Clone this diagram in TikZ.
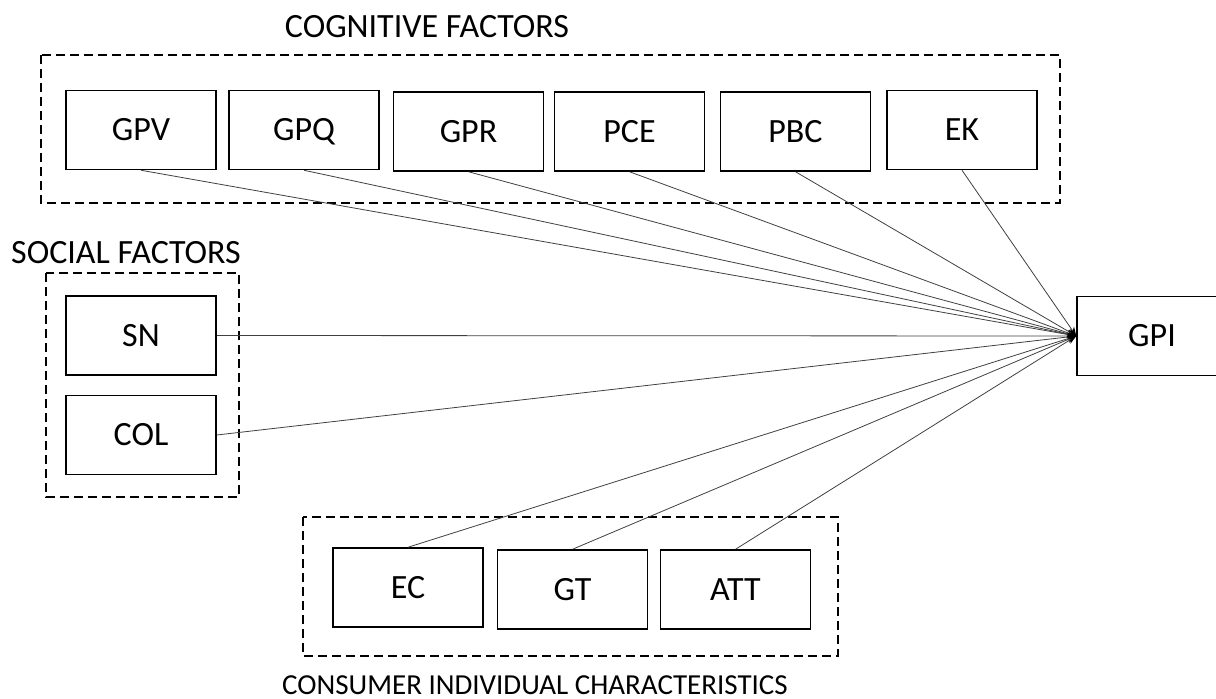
\documentclass[tikz,border=0pt]{standalone}
\usepackage{fontspec}
\setmainfont{Carlito}
\usetikzlibrary{arrows.meta}
\begin{document}
\begin{tikzpicture}[x=1pt,y=-1pt,
  fbox/.style={draw=black,line width=1.5pt,minimum width=150pt,minimum height=79pt,inner sep=0pt,
    font=\fontsize{34}{38}\selectfont,text height=21pt,text depth=0pt},
  group/.style={draw=black,line width=1.4pt,dash pattern=on 9pt off 5pt},
  title/.style={font=\fontsize{34}{38}\selectfont,inner sep=0pt,text height=21pt,text depth=0pt},
  smalltitle/.style={font=\fontsize{29}{33}\selectfont,inner sep=0pt,text height=18pt,text depth=0pt},
  conn/.style={draw=black!75,line width=0.8pt,-{Stealth[length=9pt,width=7pt,color=black]}}]
\useasboundingbox (0,0) rectangle (1216,699);
% groups
\draw[group] (41,55) rectangle (1060,203);
\draw[group] (46,273) rectangle (239,497);
\draw[group] (303,517) rectangle (838,656);
% titles
\node[title] (tcog) at (427,27) {COGNITIVE FACTORS};
\node[title] (tsoc) at (126,253) {SOCIAL FACTORS};
\node[smalltitle] (tcon) at (535,685) {CONSUMER INDIVIDUAL CHARACTERISTICS};
% boxes
\node[fbox] (gpv) at (141,130) {GPV};
\node[fbox] (gpq) at (304,130) {GPQ};
\node[fbox] (gpr) at (468.5,131.5) {GPR};
\node[fbox] (pce) at (629.5,131.5) {PCE};
\node[fbox] (pbc) at (795.5,131.5) {PBC};
\node[fbox] (ek) at (962,130) {EK};
\node[fbox] (sn) at (141,335.5) {SN};
\node[fbox] (col) at (141,435) {COL};
\node[fbox] (ec) at (408,587.5) {EC};
\node[fbox] (gt) at (572.5,589.5) {GT};
\node[fbox] (att) at (735.5,589.5) {ATT};
\node[fbox] (gpi) at (1152,336) {GPI};
% connectors
\foreach \n in {gpv,gpq,gpr,pce,pbc,ek}{\draw[conn] (\n.south) -- (gpi.west);}
\foreach \n in {sn,col}{\draw[conn] (\n.east) -- (gpi.west);}
\foreach \n in {ec,gt,att}{\draw[conn] (\n.north) -- (gpi.west);}
\end{tikzpicture}
\end{document}
